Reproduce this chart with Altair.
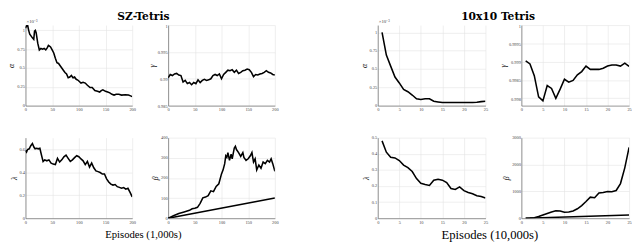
import altair as alt
import pandas as pd

# ---------------- data ----------------
# SZ-Tetris (episodes in 1,000s)
sz_alpha_x = [0, 2, 4, 6, 8, 10, 13, 15.5, 17, 18.5, 20, 23, 26, 29, 32, 35, 38, 41, 43, 45, 47, 50,
              53, 56, 59, 62, 65, 68, 71, 74, 77, 80, 83, 86, 89, 92, 95, 98, 101, 104, 108, 112, 116,
              121, 125, 130, 135, 139, 142, 145, 150, 154, 158, 162, 166, 170, 175, 180, 187, 193, 197, 200]
sz_alpha_y = [1.03, 1.06, 1.07, 1.00, 0.95, 0.93, 0.90, 0.88, 0.99, 1.00, 0.97, 0.83, 0.74, 0.76, 0.75,
              0.76, 0.74, 0.77, 0.80, 0.79, 0.78, 0.74, 0.70, 0.63, 0.57, 0.56, 0.53, 0.50, 0.47, 0.44,
              0.42, 0.37, 0.38, 0.40, 0.37, 0.38, 0.35, 0.34, 0.32, 0.30, 0.31, 0.30, 0.27, 0.24, 0.24,
              0.20, 0.19, 0.18, 0.20, 0.21, 0.19, 0.18, 0.17, 0.15, 0.14, 0.15, 0.15, 0.14, 0.145, 0.14,
              0.13, 0.12]

sz_gamma_x = list(range(0, 201, 4))
sz_gamma_y = [0.9902, 0.9908, 0.9906, 0.9909, 0.9910, 0.9907, 0.9906, 0.9894, 0.9897, 0.9891, 0.9893,
              0.9889, 0.9893, 0.9891, 0.9898, 0.9893, 0.9897, 0.9899, 0.9897, 0.9898, 0.9900, 0.9906,
              0.9908, 0.9906, 0.9909, 0.9900, 0.9908, 0.9912, 0.9916, 0.9915, 0.9917, 0.9912, 0.9916,
              0.9910, 0.9912, 0.9915, 0.9916, 0.9918, 0.9917, 0.9912, 0.9904, 0.9908, 0.9907, 0.9909,
              0.9910, 0.9912, 0.9915, 0.9912, 0.9911, 0.9908, 0.9907]

sz_lambda_x = [0, 2, 4, 7, 10, 13, 16, 18, 21, 24, 27, 30, 33, 36, 40, 44, 48, 52, 56, 60, 64, 68, 72,
               76, 80, 84, 88, 92, 96, 100, 104, 108, 112, 116, 120, 124, 128, 132, 136, 140, 144, 148,
               152, 156, 160, 164, 168, 172, 176, 180, 184, 188, 192, 196, 200]
sz_lambda_y = [0.589, 0.575, 0.597, 0.603, 0.630, 0.649, 0.616, 0.603, 0.608, 0.603, 0.608, 0.548, 0.493,
               0.507, 0.499, 0.507, 0.479, 0.470, 0.466, 0.520, 0.488, 0.507, 0.534, 0.548, 0.520, 0.493,
               0.507, 0.526, 0.543, 0.534, 0.515, 0.499, 0.466, 0.493, 0.444, 0.479, 0.438, 0.411, 0.405,
               0.397, 0.384, 0.384, 0.342, 0.315, 0.296, 0.288, 0.293, 0.274, 0.268, 0.260, 0.266, 0.252,
               0.260, 0.225, 0.186]

sz_beta_x = [0, 10, 20, 30, 40, 45, 50, 55, 60, 65, 70, 75, 80, 85, 90, 95, 100, 103, 106, 108, 110, 112,
             115, 118, 120, 124, 126, 128, 132, 136, 140, 142, 146, 150, 154, 157, 160, 163, 166, 170, 174,
             178, 182, 186, 190, 193, 196, 200]
sz_beta_y = [0, 12, 23, 31, 39, 47, 50, 54, 74, 101, 105, 112, 136, 132, 158, 171, 220, 240, 271, 310, 302,
             326, 287, 318, 295, 349, 357, 341, 326, 307, 326, 302, 287, 295, 310, 326, 279, 295, 240, 264,
             248, 279, 271, 287, 279, 295, 271, 233]
sz_ref_x = [0, 200]
sz_ref_y = [0, 100]

# 10x10 Tetris (episodes in 10,000s)
t10_x = list(range(1, 26))
t10_alpha_y = [1.0, 0.69, 0.54, 0.39, 0.31, 0.22, 0.19, 0.145, 0.094, 0.085, 0.094, 0.094, 0.06, 0.051,
               0.043, 0.043, 0.042, 0.043, 0.042, 0.043, 0.044, 0.043, 0.047, 0.055, 0.06]
t10_gamma_y = [0.99902, 0.99894, 0.99862, 0.99804, 0.99793, 0.99835, 0.99827, 0.99800, 0.99825, 0.99852,
               0.99844, 0.99849, 0.99864, 0.99873, 0.99888, 0.99879, 0.99879, 0.99879, 0.99882, 0.99888,
               0.99891, 0.99891, 0.99888, 0.99896, 0.99887]
t10_lambda_y = [0.48, 0.41, 0.378, 0.374, 0.358, 0.33, 0.314, 0.29, 0.246, 0.217, 0.209, 0.203, 0.236,
                0.242, 0.236, 0.221, 0.184, 0.178, 0.194, 0.171, 0.160, 0.152, 0.140, 0.135, 0.126]
t10_beta_y = [0, 5, 20, 60, 117, 176, 234, 281, 270, 223, 234, 270, 352, 469, 621, 785, 762, 938, 961,
              996, 985, 1031, 1290, 1876, 2638]
t10_ref_x = [1, 25]
t10_ref_y = [0, 117]

# tick labels / axes
sz_xticks = [0, 50, 100, 150, 200]
t10_xticks = [0, 5, 10, 15, 20, 25]

# ---------------- styling ----------------
SERIF = "Liberation Serif"
LABEL_FS = 4.5


def xy(xs, ys, s="a"):
    return pd.DataFrame({"x": xs, "y": ys, "s": [s] * len(xs)})


def panel(df, xdom, xticks, ydom, yticks, ytitle, w, h, extras=(), ylab_offset=0):
    line = alt.Chart(df).mark_line(color="black", strokeWidth=1.6, clip=True).encode(
        x=alt.X("x:Q", scale=alt.Scale(domain=xdom, nice=False, zero=False),
                axis=alt.Axis(values=xticks, title=None, labelFlush=False, labelExpr="datum.value + ''")),
        y=alt.Y("y:Q", scale=alt.Scale(domain=ydom, nice=False, zero=False),
                axis=alt.Axis(values=yticks, title=ytitle, labelExpr="datum.value + ''",
                              labelOffset=ylab_offset)),
        detail="s:N",
    )
    layers = [line] + list(extras)
    return alt.layer(*layers).properties(width=w, height=h)


def text(t, x, y, size, font=SERIF, weight="normal", align="center", color="black"):
    return alt.Chart(pd.DataFrame({"t": [t]})).mark_text(
        font=font, fontSize=size, fontWeight=weight, align=align, baseline="middle", color=color
    ).encode(x=alt.value(x), y=alt.value(y), text="t:N")


WA, WB, H = 110, 111, 83

p1 = panel(xy(sz_alpha_x, sz_alpha_y), [0, 200], sz_xticks, [0, 1.07], [0, 0.25, 0.5, 0.75, 1], "α", WA, H,
           extras=[text("×10⁻³", 1, -4, 5, align="left", color="#444"),
                   text("SZ-Tetris", 121.5, -8, 11, font="DejaVu Serif", weight="bold")])
p2 = panel(xy(sz_gamma_x, sz_gamma_y), [0, 200], sz_xticks, [0.985, 1], [0.985, 0.99, 0.995, 1], "γ", WA, H,
           ylab_offset=1)
p3 = panel(xy(sz_lambda_x, sz_lambda_y), [0, 200], sz_xticks, [0, 0.7], [0, 0.2, 0.4, 0.6], "λ", WA, H,
           extras=[text("Episodes (1,000s)", 121.5, H + 17, 11)])
p4 = panel(pd.concat([xy(sz_beta_x, sz_beta_y, "a"), xy(sz_ref_x, sz_ref_y, "b")]), [0, 200], sz_xticks,
           [0, 400], [0, 100, 200, 300, 400], "β", WA, H)

p5 = panel(xy(t10_x, t10_alpha_y), [0, 25], t10_xticks, [0, 1.1], [0, 0.25, 0.5, 0.75, 1], "α", WB, H,
           extras=[text("×10⁻³", 1, -4, 5, align="left", color="#444"),
                   text("10x10 Tetris", 124, -8, 11, font="DejaVu Serif", weight="bold")])
p6 = panel(xy(t10_x, t10_gamma_y), [0, 25], t10_xticks, [0.9978, 1], [0.998, 0.9985, 0.999, 0.9995, 1],
           "γ", WB, H, ylab_offset=1)
p7 = panel(xy(t10_x, t10_lambda_y), [0, 25], t10_xticks, [0, 0.5], [0, 0.1, 0.2, 0.3, 0.4, 0.5], "λ", WB, H,
           extras=[text("Episodes (10,000s)", 115.5, H + 17, 13)])
p8 = panel(pd.concat([xy(t10_x, t10_beta_y, "a"), xy(t10_ref_x, t10_ref_y, "b")]), [0, 25], t10_xticks,
           [0, 3000], [0, 1000, 2000, 3000], "β", WB, H)

groupA = alt.concat(p1, p2, p3, p4, columns=2, spacing={"row": 33, "column": 37}, bounds="flush")
groupB = alt.concat(p5, p6, p7, p8, columns=2, spacing={"row": 33, "column": 37}, bounds="flush")

chart = alt.hconcat(groupA, groupB, spacing=84).properties(padding=0).configure_view(
    stroke=None
).configure_axis(
    labelFont=SERIF, labelFontSize=LABEL_FS, labelColor="#444", labelPadding=1,
    ticks=False, domainColor="#666", domainWidth=0.7,
    gridColor="#e3e3e3", gridWidth=0.6,
    titleFont=SERIF, titleFontSize=8, titleFontStyle="italic", titleFontWeight="normal",
    titleColor="#000000", titlePadding=1,
)

chart.save("out.html", embed_options={"renderer": "svg", "actions": False})
